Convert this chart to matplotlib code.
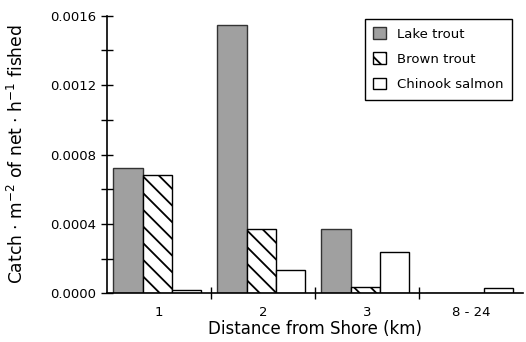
import matplotlib.pyplot as plt
import numpy as np
from matplotlib.ticker import MultipleLocator, FixedLocator, NullFormatter

plt.rcParams['hatch.linewidth'] = 1.3

groups = ['1', '2', '3', '8 - 24']
lake_trout = [0.00072, 0.001545, 0.00037, 0.0]
brown_trout = [0.00068, 0.00037, 0.000035, 0.0]
chinook_salmon = [0.00002, 0.000135, 0.00024, 0.00003]

fig = plt.figure(figsize=(5.26, 3.42), dpi=100)
ax = fig.add_axes([0.2034, 0.1424, 0.7906, 0.8116])

x = np.arange(len(groups))
w = 0.283
off = -0.5 + 0.06
ax.bar(x + off, lake_trout, w, align='edge', color='#a0a0a0', edgecolor='#333333',
       linewidth=1, label='Lake trout')
ax.bar(x + off + w, brown_trout, w, align='edge', color='white', edgecolor='black',
       hatch='\\\\', linewidth=1, label='Brown trout')
ax.bar(x + off + 2 * w, chinook_salmon, w, align='edge', color='white', edgecolor='black',
       linewidth=1, label='Chinook salmon')

ax.set_xlim(-0.5, 3.5)
ax.set_ylim(0, 0.0016)

ax.spines['top'].set_visible(False)
ax.spines['right'].set_visible(False)
for s in ['left', 'bottom']:
    ax.spines[s].set_linewidth(1.2)

ax.yaxis.set_major_locator(MultipleLocator(0.0004))
ax.yaxis.set_minor_locator(MultipleLocator(0.0002))
ax.set_yticklabels([f'{v:.4f}' for v in ax.get_yticks()])
ax.tick_params(axis='y', which='both', direction='inout', length=9, width=1, labelsize=9.5)

ax.xaxis.set_major_locator(FixedLocator([0.5, 1.5, 2.5]))
ax.xaxis.set_major_formatter(NullFormatter())
ax.xaxis.set_minor_locator(FixedLocator(x))
ax.xaxis.set_minor_formatter(plt.FixedFormatter(groups))
ax.tick_params(axis='x', which='major', direction='inout', length=9, width=1)
ax.tick_params(axis='x', which='minor', length=0, labelsize=9.5, pad=9)

ax.set_xlabel('Distance from Shore (km)', fontsize=12, labelpad=1)
ax.set_ylabel(r'Catch $\cdot$ m$^{-2}$ of net $\cdot$ h$^{-1}$ fished', fontsize=12.3, labelpad=16)

leg = ax.legend(loc='upper right', bbox_to_anchor=(0.974, 0.99), borderaxespad=0,
                fontsize=9.5, fancybox=False, shadow=False, edgecolor='black', framealpha=1,
                handlelength=1.0, handleheight=1.0, labelspacing=0.9, borderpad=0.65)
leg.get_frame().set_linewidth(1.0)

fig.savefig('out.png', dpi=100)
